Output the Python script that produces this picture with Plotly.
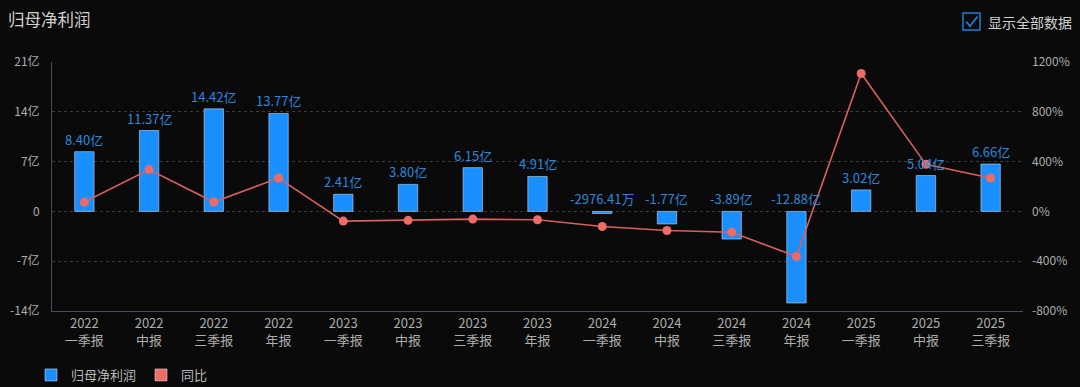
import plotly.graph_objects as go

categories = ["2022<br>一季报", "2022<br>中报", "2022<br>三季报", "2022<br>年报",
              "2023<br>一季报", "2023<br>中报", "2023<br>三季报", "2023<br>年报",
              "2024<br>一季报", "2024<br>中报", "2024<br>三季报", "2024<br>年报",
              "2025<br>一季报", "2025<br>中报", "2025<br>三季报"]
profit_yi = [8.40, 11.37, 14.42, 13.77, 2.41, 3.80, 6.15, 4.91,
             -0.297641, -1.77, -3.89, -12.88, 3.02, 5.04, 6.66]
yoy_pct = [75, 336, 75, 268, -78, -72, -62, -67,
           -121, -153, -167, -362, 1108, 378, 268]
left_ticks = [-14, -7, 0, 7, 14, 21]
left_tick_text = ["-14亿", "-7亿", "0", "7亿", "14亿", "21亿"]
right_ticks = [-800, -400, 0, 400, 800, 1200]
right_tick_text = ["-800%", "-400%", "0%", "400%", "800%", "1200%"]

BAR = "#1a8fff"
LINE = "#d9605c"
MARK = "#ee6b66"
LABEL = "#2a88dd"
TXT = "#adadad"
FONT = "Noto Sans CJK SC"

def fmt(v):
    if abs(v) < 1:
        return f"{v * 10000:.2f}万"
    return f"{v:.2f}亿"

fig = go.Figure()
fig.add_trace(go.Bar(x=categories, y=profit_yi, name="归母净利润", marker_color=BAR,
                     width=0.3, yaxis="y", showlegend=True))
fig.add_trace(go.Scatter(x=categories, y=yoy_pct, name="同比", mode="lines+markers",
                         line=dict(color=LINE, width=1.6),
                         marker=dict(color=MARK, size=9), yaxis="y2", showlegend=False))
# legend-only square swatch for 同比
fig.add_trace(go.Bar(x=[categories[0]], y=[None], name="同比", marker_color=MARK,
                     yaxis="y", showlegend=True, width=0.3))

for c, v in zip(categories, profit_yi):
    fig.add_annotation(x=c, y=max(v, 0), xref="x", yref="y", text=fmt(v), showarrow=False,
                       yanchor="bottom", yshift=1, font=dict(color=LABEL, size=13, family=FONT))

W, H = 1080, 387
L, R, T, B = 52, 57, 62, 76
pw, ph = W - L - R, H - T - B

def px(x):
    return (x - L) / pw

def py(y):
    return (H - B - y) / ph

# checkbox
fig.add_shape(type="rect", xref="paper", yref="paper", x0=px(963), x1=px(980), y0=py(30), y1=py(13),
              line=dict(color="#1c7ed6", width=1.5), fillcolor="rgba(0,0,0,0)")
fig.add_shape(type="path", xref="paper", yref="paper",
              path=f"M{px(966)},{py(21.5)} L{px(970)},{py(26)} L{px(977.5)},{py(16.5)}",
              line=dict(color="#1c7ed6", width=1.8))
fig.add_annotation(xref="paper", yref="paper", x=px(986), y=py(22), text="显示全部数据",
                   showarrow=False, xanchor="left", yanchor="middle",
                   font=dict(color="#d0d0d0", size=14, family=FONT))

fig.update_layout(
    width=W, height=H,
    paper_bgcolor="#0a0a0a", plot_bgcolor="#0a0a0a",
    margin=dict(l=L, r=R, t=T, b=B, autoexpand=False),
    font=dict(family=FONT, color=TXT, size=12),
    title=dict(text="归母净利润", x=8 / W, y=1 - 20 / H, xref="container", yref="container",
               xanchor="left", yanchor="middle", font=dict(size=16.5, color="#d0d0d0", family=FONT)),
    barmode="overlay",
    xaxis=dict(type="category", range=[-0.5, 14.5], showgrid=False, showline=True,
               linecolor="#4a4a5a", linewidth=1,
               ticks="", tickfont=dict(size=13, color=TXT), zeroline=False),
    yaxis=dict(range=[-14, 21], tickvals=left_ticks, ticktext=left_tick_text,
               showgrid=True, gridcolor="#3a3a3a", griddash="dot", gridwidth=1,
               zeroline=False, showline=True, linecolor="#4a4a5a", linewidth=1,
               tickfont=dict(size=12, color=TXT), ticks="", ticklabelstandoff=9),
    yaxis2=dict(range=[-800, 1200], tickvals=right_ticks, ticktext=right_tick_text,
                overlaying="y", side="right", showgrid=False, zeroline=False, showline=False,
                tickfont=dict(size=12, color=TXT), ticks="", ticklabelstandoff=8),
    legend=dict(orientation="h", x=px(31), y=py(375), xanchor="left", yanchor="middle",
                font=dict(size=13, color="#b8b8b8", family=FONT), bgcolor="rgba(0,0,0,0)",
                traceorder="normal"),
)

fig.write_html("out.html", config={"displayModeBar": False},
               post_script="document.body.style.margin='0';")
